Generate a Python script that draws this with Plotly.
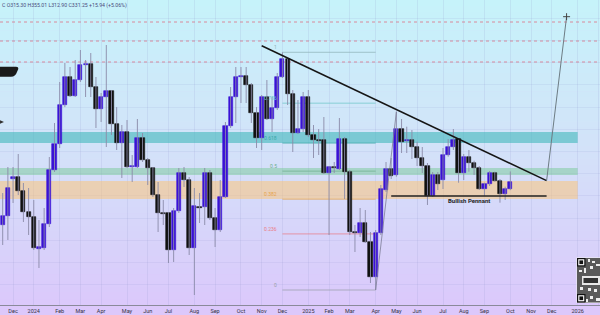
import plotly.graph_objects as go
import pandas as pd

# ---------------- data (weekly bars) ----------------
first_bar = "2023-11-20"
opens = [234.5, 254.75, 339.1, 342.5, 311, 263.75, 252.5, 180.5, 182.75, 236.75,
         358.25, 416.75, 504.5, 567.5, 524.75, 560.75, 594.5, 596.75, 545, 495.5,
         522.5, 536, 461.75, 419, 443.75, 363.9, 365, 430.25, 380.75, 362.75,
         302, 261.5, 261.5, 178.25, 266, 351.5, 335.75, 182.75, 275, 275,
         351.5, 250.25, 223.25, 297.5, 457.25, 522.5, 567.5, 569.75, 549.5, 486.5,
         430.25, 522.5, 473, 497.5, 567.5, 608, 529.25, 441.5, 450.5, 522.5,
         437, 425.75, 425.75, 351.5, 365, 360.5, 428, 353.75, 218.75, 216.5,
         239, 196.25, 117.5, 216.5, 313.25, 361.2, 347, 450.5, 423.5, 425.75,
         410.7, 385.25, 367.25, 299.75, 347, 335.75, 392, 410.7, 428, 350.8,
         388.2, 374, 362.75, 315.5, 326.75, 351.5, 333.5, 304.25, 315.30]
highs = [306.5, 365, 365, 394.25, 329, 317.75, 290.75, 245.75, 272.75, 387.5,
         464, 556.25, 599, 590, 605.75, 628.25, 605.75, 621.5, 567.5, 531.5,
         639.5, 538.25, 499.75, 459.5, 470.75, 392, 473, 441.5, 385.25, 365,
         331.25, 290.75, 263.75, 272.75, 362.75, 365, 342.5, 317.75, 306.5, 362.75,
         358.25, 272.75, 335.75, 466.25, 545, 590, 590, 590, 554, 499.75,
         527, 560.75, 522.5, 576.5, 623.1, 610.25, 538.25, 515.75, 533.75, 538.25,
         459.5, 450.5, 477.5, 367.25, 376.25, 475.25, 432.5, 358.25, 234.5, 272.75,
         268.25, 218.75, 223.25, 324.5, 376.25, 385.25, 489.4, 473, 455.7, 448.25,
         421.9, 410, 374, 353.75, 353.75, 407.75, 428, 450.5, 430.25, 394.25,
         403.25, 379.2, 367.25, 329.7, 356, 354.4, 338, 320.7, 355.01]
lows = [189.5, 200.75, 284, 302, 241.25, 212, 178.25, 137.75, 178.25, 230,
        353.75, 407.75, 499.75, 522.5, 522.5, 556.25, 522.5, 522.5, 452.75, 466.25,
        410, 437, 403.25, 340.25, 362.75, 331.25, 362.75, 376.25, 324.5, 297.5,
        218.75, 234.5, 149, 151.25, 261.5, 320, 167, 77, 239, 234.5,
        245.75, 185, 218.75, 295.25, 452.75, 464, 509, 509, 464, 407.75,
        403.25, 470.75, 443.75, 493.25, 565.25, 504.5, 398.75, 439.25, 443.75, 432.5,
        385.25, 392, 349.25, 212, 351.5, 358.25, 293, 212, 173.75, 207.5,
        194, 104, 88.25, 212, 308.75, 338, 343.2, 396.5, 396.5, 383,
        367.25, 351.5, 279.5, 297.5, 313.25, 315.5, 388.2, 403.25, 329.7, 335.75,
        354.4, 347, 313.25, 299.75, 322.25, 331.9, 284.7, 290.75, 312.90]
closes = [255.4, 317.75, 341.8, 311, 263.75, 252.5, 182.75, 185, 236.75, 358.25,
          416.75, 504.5, 567.5, 524.75, 560.75, 594.5, 596.75, 545, 495.5, 522.5,
          536, 461.75, 419, 443.75, 365, 367.25, 430.25, 380.75, 362.75, 302,
          261.5, 259.25, 178.25, 266, 351.5, 335.75, 182.75, 277.25, 272.75, 351.5,
          250.25, 223.25, 297.5, 457.25, 522.5, 567.5, 569.75, 549.5, 486.5, 430.25,
          522.5, 473, 497.5, 567.5, 608, 529.25, 441.5, 450.5, 522.5, 437,
          425.75, 423.5, 351.5, 365, 362.75, 428, 353.75, 218.75, 216.5, 239,
          196.25, 117.5, 216.5, 315.5, 361.2, 344.75, 450.5, 421.9, 425.75, 410.7,
          385.25, 367.25, 299.75, 347, 326.75, 392, 410.7, 425.75, 351.5, 388.2,
          373.3, 362.75, 315.5, 326.75, 351.5, 333.5, 304.25, 314.8, 331.25]

tick_dates = ["2023-12-04", "2024-01-01", "2024-02-05", "2024-03-04", "2024-04-01",
              "2024-05-06", "2024-06-03", "2024-07-01", "2024-08-05", "2024-09-02",
              "2024-10-07", "2024-11-04", "2024-12-02", "2025-01-06", "2025-02-03",
              "2025-03-03", "2025-04-07", "2025-05-05", "2025-06-02", "2025-07-07",
              "2025-08-04", "2025-09-01", "2025-10-06", "2025-11-03", "2025-12-01",
              "2026-01-05", "2026-02-02"]
tick_text = ["Dec", "2024", "Feb", "Mar", "Apr", "May", "Jun", "Jul", "Aug", "Sep",
             "Oct", "Nov", "Dec", "2025", "Feb", "Mar", "Apr", "May", "Jun", "Jul",
             "Aug", "Sep", "Oct", "Nov", "Dec", "2026", "Feb"]

# Fibonacci retracement drawing
fib_high = 623.1
fib_low = 88.25
fib_start = "2024-12-02"
fib_end = "2025-04-07"
fib_levels = [1, 0.786, 0.618, 0.5, 0.382, 0.236, 0]
fib_labels = ["1", "0.786", "0.618", "0.5", "0.382", "0.236", "0"]

# horizontal zones
zone_tops = [443.75, 362.75, 333.5]
zone_bottoms = [419.0, 347.0, 293.0]
zone_end = "2026-01-05"

# dotted resistance levels
dotted_levels = [691.25, 648.5, 601.25]

# pattern drawings
trend_x = ["2024-11-04", "2025-11-24"]
trend_y = [637.9, 334.2]
support_x = ["2025-04-28", "2025-11-24"]
support_y = [299.75, 299.75]
proj_x = ["2025-11-24", "2025-12-21"]
proj_y = [334.2, 703.2]
impulse_x = ["2025-04-07", "2025-05-05"]
impulse_y = [88.25, 489.4]
label_x = "2025-08-11"
label_y = 289.0

header = "C O315.30 H355.01 L312.90 C331.25 +15.94 (+5.06%)"

# ---------------- styling / scales ----------------
W, H = 600, 315
PLOT_H = 305
px_per_day = 5.18 / 7.0
first_px = 2.7
bar_dates = pd.date_range(first_bar, periods=len(opens), freq="7D")
x0 = pd.Timestamp(first_bar) - pd.Timedelta(days=first_px / px_per_day)
x1 = x0 + pd.Timedelta(days=W / px_per_day)
y_top = 740.75
y_bot = y_top - 2.25 * PLOT_H

BLUE = "#3a12d6"
BLACK = "#111111"
WICK = "#8a8aa8"

fig = go.Figure()

# wicks
wx, wy = [], []
for d, h, l in zip(bar_dates, highs, lows):
    wx += [d, d, None]
    wy += [l, h, None]
fig.add_trace(go.Scatter(x=wx, y=wy, mode="lines", line=dict(color=WICK, width=0.9),
                         hoverinfo="skip"))

# bodies
cols = [BLUE if c >= o else BLACK for o, c in zip(opens, closes)]
fig.add_trace(go.Bar(
    x=bar_dates,
    base=[min(o, c) for o, c in zip(opens, closes)],
    y=[abs(c - o) for o, c in zip(opens, closes)],
    width=5.6 * 86400000,
    marker=dict(color=cols, line=dict(color=cols, width=0.6)),
    hoverinfo="skip"))

# pattern lines
fig.add_trace(go.Scatter(x=impulse_x, y=impulse_y, mode="lines",
                         line=dict(color="#7c7c96", width=0.8), hoverinfo="skip"))
fig.add_trace(go.Scatter(x=trend_x, y=trend_y, mode="lines",
                         line=dict(color="#151515", width=1.5), hoverinfo="skip"))
fig.add_trace(go.Scatter(x=support_x, y=support_y, mode="lines",
                         line=dict(color="#222222", width=1.3), hoverinfo="skip"))
fig.add_trace(go.Scatter(x=proj_x, y=proj_y, mode="lines",
                         line=dict(color="#6d7c84", width=1), hoverinfo="skip"))
fig.add_trace(go.Scatter(x=[proj_x[1]], y=[proj_y[1]], mode="markers",
                         marker=dict(symbol="cross-thin", size=5,
                                     line=dict(color="#444", width=1)),
                         hoverinfo="skip"))

shapes = []
# gradient background
stops = [(0, (198, 243, 250)), (150, (211, 226, 249)), (PLOT_H, (219, 200, 251))]
N = 50
for i in range(N):
    ya = i * PLOT_H / N
    yb = (i + 1) * PLOT_H / N
    ym = (ya + yb) / 2
    for j in range(len(stops) - 1):
        if stops[j][0] <= ym <= stops[j + 1][0]:
            t = (ym - stops[j][0]) / (stops[j + 1][0] - stops[j][0])
            c = [round(stops[j][1][k] + t * (stops[j + 1][1][k] - stops[j][1][k])) for k in range(3)]
    shapes.append(dict(type="rect", xref="paper", yref="paper", x0=0, x1=1,
                       y0=1 - yb / PLOT_H - 0.001, y1=1 - ya / PLOT_H + 0.001,
                       fillcolor="rgb(%d,%d,%d)" % tuple(c), line=dict(width=0),
                       layer="below"))

zone_fill = ["rgba(60,182,184,0.58)", "rgba(110,200,140,0.45)", "rgba(255,195,110,0.5)"]
for top, bot, fc in zip(zone_tops, zone_bottoms, zone_fill):
    shapes.append(dict(type="rect", xref="x", yref="y", x0=x0, x1=zone_end,
                       y0=bot, y1=top, fillcolor=fc, line=dict(width=0),
                       layer="between"))

for lv in dotted_levels:
    shapes.append(dict(type="line", xref="paper", yref="y", x0=0, x1=1, y0=lv, y1=lv,
                       line=dict(color="rgba(225,95,115,0.7)", width=1, dash="dot"),
                       layer="between"))

fib_colors = ["#8fb3b8", "#6cc7c9", "#3aa7a8", "#6fae8e", "#e7a24a", "#ea7b86", "#9aa0aa"]
annotations = []
for lvl, lab, fc in zip(fib_levels, fib_labels, fib_colors):
    p = fib_low + lvl * (fib_high - fib_low)
    shapes.append(dict(type="line", xref="x", yref="y", x0=fib_start, x1=fib_end,
                       y0=p, y1=p, line=dict(color=fc, width=0.8), layer="between",
                       opacity=0.9))
    annotations.append(dict(x=fib_start, y=p, xref="x", yref="y", text=lab,
                            showarrow=False, xanchor="right", yanchor="bottom",
                            xshift=-3, yshift=0,
                            font=dict(size=5, color=fc, family="Roboto")))


def px(x, y):
    return "%.4f,%.4f" % (x / W, 1 - y / PLOT_H)


# black tag at left edge
tag = ("M " + px(0, 66.7) + " L " + px(16, 66.7) + " Q " + px(18.5, 66.7) + " " + px(18.3, 69)
       + " L " + px(17, 72) + " Q " + px(15.5, 76.7) + " " + px(11, 76.7)
       + " L " + px(0, 76.7) + " Z")
shapes.append(dict(type="path", xref="paper", yref="paper", path=tag,
                   fillcolor="#1a1a1a", line=dict(width=0), layer="above"))
arrow = "M " + px(0, 120.3) + " L " + px(4, 122) + " L " + px(0, 123.7) + " Z"
shapes.append(dict(type="path", xref="paper", yref="paper", path=arrow,
                   fillcolor="#333", line=dict(width=0), layer="above"))

# QR-code style badge (decoration)
def prect(xa, ya, xb, yb, col):
    shapes.append(dict(type="rect", xref="paper", yref="paper",
                       x0=xa / W, x1=xb / W, y0=1 - yb / PLOT_H, y1=1 - ya / PLOT_H,
                       fillcolor=col, line=dict(width=0), layer="above"))

prect(576.5, 257.5, 600, 303, "#f2f2f2")
prect(577, 258, 600, 302.5, "#5a5a5a")
for (fx, fy) in [(577, 258), (577, 294)]:
    prect(fx, fy, fx + 8.5, fy + 8.5, "#111")
    prect(fx + 1.2, fy + 1.2, fx + 7.3, fy + 7.3, "#f4f4f4")
    prect(fx + 2.4, fy + 2.4, fx + 6.1, fy + 6.1, "#111")
prect(582, 276, 600, 285, "#e8e8e8")
prect(583.5, 278, 598, 283, "#333")
for (a, b, c, d) in [(588, 259, 590, 262), (592, 261, 595, 263), (590, 266, 593, 269),
                     (596, 264, 600, 266), (579, 270, 582, 272), (584, 268, 586, 273),
                     (588, 288, 591, 291), (594, 289, 597, 292), (590, 296, 593, 299),
                     (596, 298, 600, 301), (580, 287, 583, 290), (586, 299, 588, 302)]:
    prect(a, b, c, d, "#eeeeee")

annotations.append(dict(x=0.0, y=1 - 5 / PLOT_H, xref="paper", yref="paper", text=header,
                        showarrow=False, xanchor="left", yanchor="middle",
                        font=dict(size=5.2, color="#4a4a7c", family="Roboto")))
annotations.append(dict(x=label_x, y=label_y, xref="x", yref="y",
                        text="<b>Bullish Pennant</b>", showarrow=False,
                        xanchor="center", yanchor="middle",
                        font=dict(size=6, color="#1e1e1e", family="Roboto")))

fig.update_layout(
    width=W, height=H,
    margin=dict(l=0, r=0, t=0, b=H - PLOT_H),
    paper_bgcolor="rgb(220,200,251)",
    plot_bgcolor="rgba(0,0,0,0)",
    showlegend=False,
    shapes=shapes,
    annotations=annotations,
    xaxis=dict(type="date", range=[x0, x1], tickmode="array", tickvals=tick_dates,
               ticktext=tick_text, showgrid=True, gridcolor="rgba(140,150,205,0.16)",
               gridwidth=1, ticks="", showline=True, linecolor="#8a8a9a", linewidth=1,
               tickfont=dict(size=5.5, color="#333344", family="Roboto"), zeroline=False),
    yaxis=dict(range=[y_bot, y_top], showticklabels=False, showgrid=True, dtick=50,
               gridcolor="rgba(140,150,205,0.13)", zeroline=False, ticks=""),
    bargap=0,
)

fig.write_html("out.html")
